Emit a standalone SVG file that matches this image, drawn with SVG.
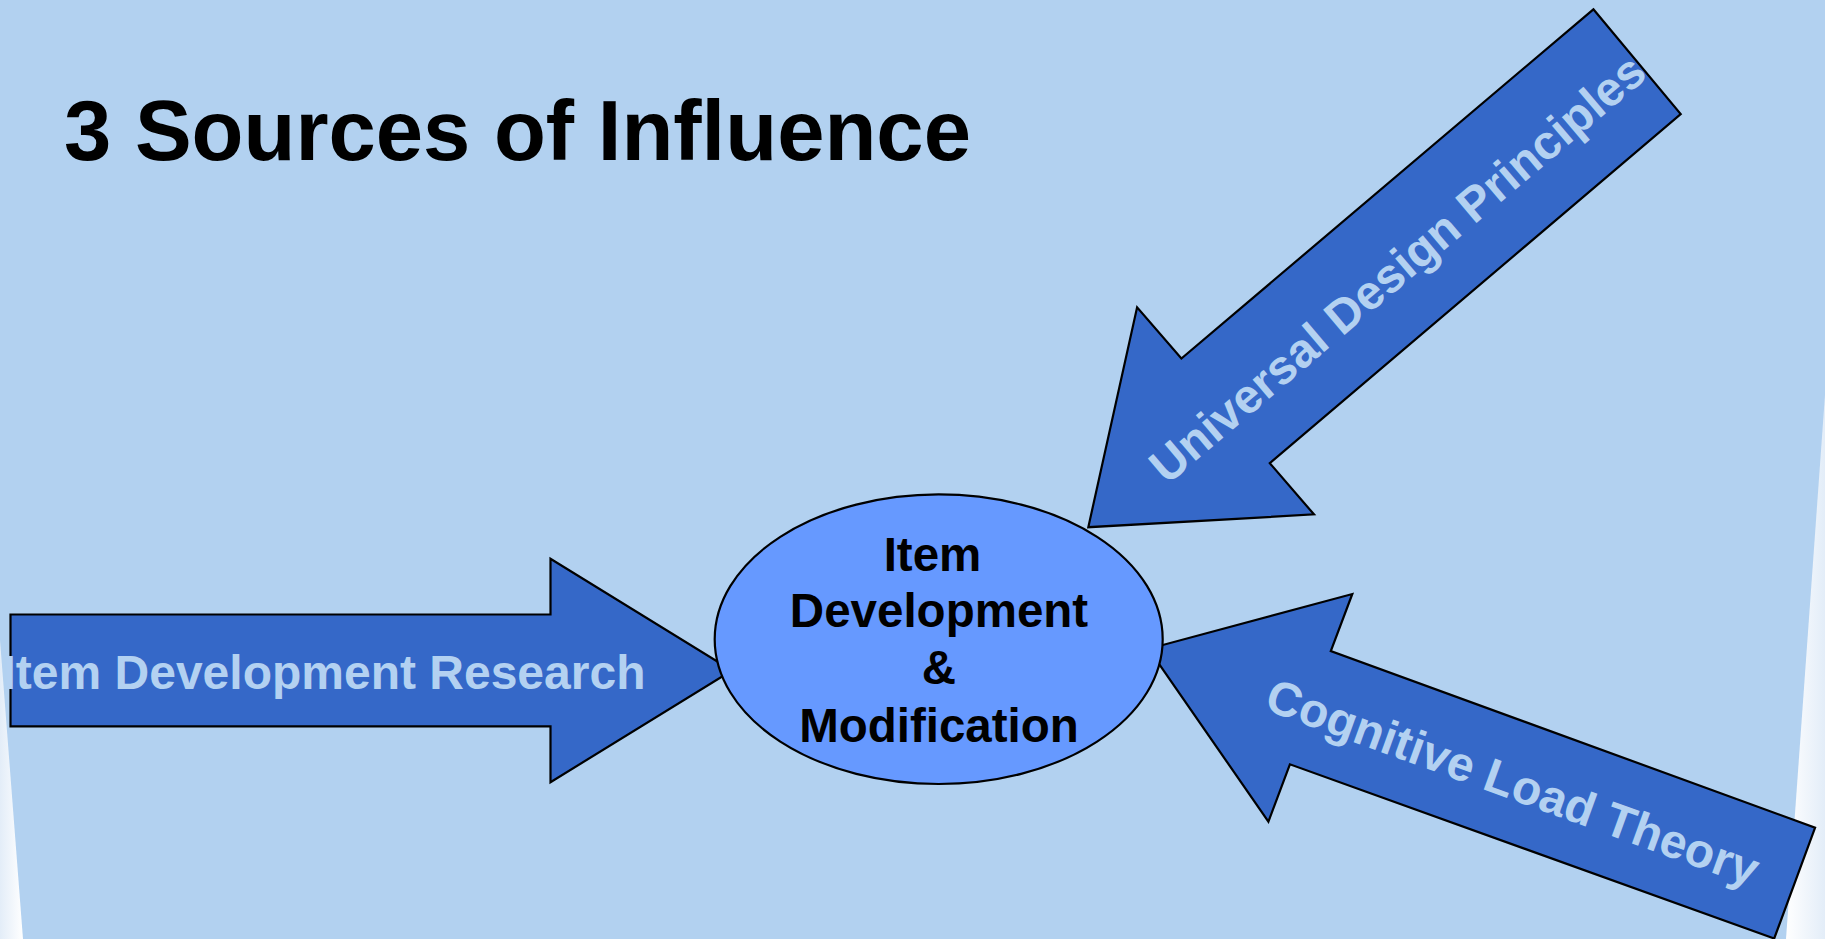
<svg xmlns="http://www.w3.org/2000/svg" width="1825" height="939" viewBox="0 0 1825 939">
  <defs>
    <linearGradient id="edgeL" x1="0" y1="0" x2="1" y2="0">
      <stop offset="0" stop-color="#e3edf8"/>
      <stop offset="1" stop-color="#ffffff"/>
    </linearGradient>
    <linearGradient id="edgeR" x1="0" y1="0" x2="1" y2="0">
      <stop offset="0" stop-color="#ffffff"/>
      <stop offset="1" stop-color="#e3edf8"/>
    </linearGradient>
  </defs>
  <style>
    .block { fill: #3568c8; stroke: #000000; stroke-width: 2.2; stroke-linejoin: miter; }
    .hub { fill: #6699ff; stroke: #000000; stroke-width: 2.2; }
    .label { font-family: "Liberation Sans", Arial, sans-serif; font-weight: bold; font-size: 48px; fill: #b3d1f1; text-anchor: middle; }
    .hubtext { font-family: "Liberation Sans", Arial, sans-serif; font-weight: bold; font-size: 47.5px; fill: #000000; text-anchor: middle; }
    .title { font-family: "Liberation Sans", Arial, sans-serif; font-weight: bold; font-size: 85px; fill: #000000; }
  </style>

  <!-- slide background with white page edges -->
  <rect x="0" y="0" width="1825" height="939" fill="#b2d1f0"/>
  <polygon points="0,640 23,939 0,939" fill="url(#edgeL)"/>
  <polygon points="1825,395 1786,939 1825,939" fill="url(#edgeR)"/>

  <text class="title" x="64" y="160">3 Sources of Influence</text>

  <!-- block arrows pointing at the hub -->
  <g id="connectors">
    <g id="arrow-udp">
      <polygon class="block" points="1593.4,9.3 1680.7,114.1 1269.8,463.2 1314,514.4 1088.3,527.2 1137.1,307.3 1181.4,358.5"/>
      <text class="label" transform="translate(1397,268) rotate(-40.3)" x="0" y="17">Universal Design Principles</text>
    </g>
    <g id="arrow-idr">
      <polygon class="block" points="10.5,614.5 550.5,614.5 550.5,558.7 732,670.5 550.5,782.2 550.5,726.3 10.5,726.3"/>
      <text class="label" x="324" y="689">Item Development Research</text>
    </g>
    <g id="arrow-clt">
      <polygon class="block" points="1815.1,827.7 1774.2,938.5 1289.9,764.3 1268.4,821.7 1148.6,648.8 1352.3,594 1330.8,651"/>
      <text class="label" transform="translate(1513,782) rotate(20)" x="0" y="17">Cognitive Load Theory</text>
    </g>
  </g>

  <!-- central node -->
  <g id="node-hub">
    <ellipse class="hub" cx="938.7" cy="639.2" rx="224" ry="144.8"/>
    <text class="hubtext" x="932.5" y="571">Item</text>
    <text class="hubtext" x="939" y="627">Development</text>
    <text class="hubtext" x="939" y="683.5">&amp;</text>
    <text class="hubtext" x="939" y="742">Modification</text>
  </g>
</svg>
